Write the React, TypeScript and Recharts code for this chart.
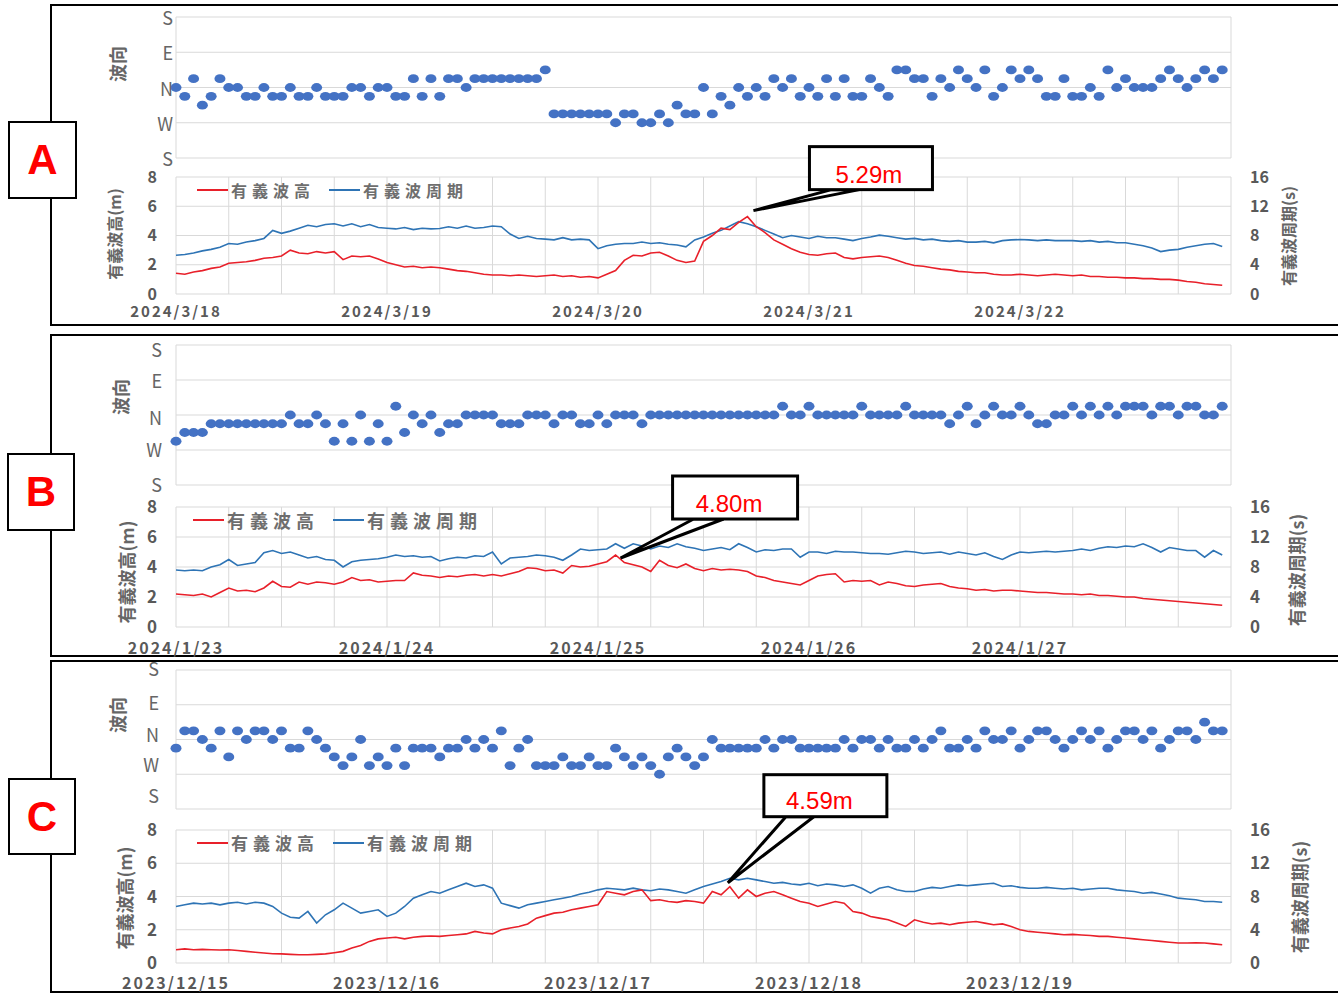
import React from "react";
import {
  ScatterChart,
  Scatter,
  LineChart,
  Line,
  XAxis,
  YAxis,
  CartesianGrid,
  Legend,
  ReferenceDot,
} from "recharts";

const FONT = "'Noto Sans CJK JP', 'Noto Sans', sans-serif";
const RED = "#e8202a";
const BLUE = "#2e74b5";
const DOT = "#4472c4";
const GRID = "#d9d9d9";
const GRAY = "#595959";

// x axis: hours from the first midnight, one tick every 6 hours
const X_TICKS = [0, 6, 12, 18, 24, 30, 36, 42, 48, 54, 60, 66, 72, 78, 84, 90, 96, 102, 108, 114, 120];
// wave direction axis, in 22.5 degree steps (E positive)
const DIR_TICKS = [-8, -4, 0, 4, 8];
const DIR_NAMES = ["S", "W", "N", "E", "S"];
const H_TICKS = [0, 2, 4, 6, 8];
const T_TICKS = [0, 4, 8, 12, 16];
const SERIES = ["有義波高", "有義波周期"];

const A_DATES = ["2024/3/18", "2024/3/19", "2024/3/20", "2024/3/21", "2024/3/22"];
const B_DATES = ["2024/1/23", "2024/1/24", "2024/1/25", "2024/1/26", "2024/1/27"];
const C_DATES = ["2023/12/15", "2023/12/16", "2023/12/17", "2023/12/18", "2023/12/19"];

// hourly wave direction (0 = N, -1 = NNW, -4 = W, +1 = NNE ...)
const A_DIR = [
  0, -1, 1, -2, -1, 1, 0, 0, -1, -1,
  0, -1, -1, 0, -1, -1, 0, -1, -1, -1,
  0, 0, -1, 0, 0, -1, -1, 1, -1, 1,
  -1, 1, 1, 0, 1, 1, 1, 1, 1, 1,
  1, 1, 2, -3, -3, -3, -3, -3, -3, -3,
  -4, -3, -3, -4, -4, -3, -4, -2, -3, -3,
  0, -3, -1, -2, 0, -1, 0, -1, 1, 0,
  1, -1, 0, -1, 1, -1, 1, -1, -1, 1,
  0, -1, 2, 2, 1, 1, -1, 1, 0, 2,
  1, 0, 2, -1, 0, 2, 1, 2, 1, -1,
  -1, 1, -1, -1, 0, -1, 2, 0, 1, 0,
  0, 0, 1, 2, 1, 0, 1, 2, 1, 2,
];
const A_HEIGHT = [
  1.42, 1.35, 1.5, 1.6, 1.75, 1.85, 2.1, 2.15, 2.2, 2.3,
  2.45, 2.5, 2.6, 3.0, 2.8, 2.75, 2.9, 2.8, 2.9, 2.35,
  2.6, 2.55, 2.6, 2.4, 2.15, 2.0, 1.85, 1.9, 1.8, 1.85,
  1.8, 1.7, 1.6, 1.55, 1.45, 1.35, 1.3, 1.3, 1.25, 1.3,
  1.25, 1.2, 1.25, 1.3, 1.2, 1.25, 1.15, 1.2, 1.1, 1.35,
  1.6, 2.3, 2.65, 2.6, 2.8, 2.85, 2.6, 2.3, 2.15, 2.25,
  3.6, 4.0, 4.5, 4.4, 4.9, 5.29, 4.6, 4.2, 3.7, 3.4,
  3.1, 2.85, 2.7, 2.65, 2.75, 2.8, 2.5, 2.4, 2.5, 2.55,
  2.6, 2.5, 2.3, 2.1, 1.95, 1.9, 1.8, 1.7, 1.65, 1.55,
  1.5, 1.45, 1.45, 1.35, 1.3, 1.3, 1.35, 1.3, 1.25, 1.3,
  1.35, 1.3, 1.25, 1.3, 1.2, 1.2, 1.15, 1.15, 1.1, 1.1,
  1.05, 1.05, 1.0, 1.0, 0.95, 0.85, 0.8, 0.7, 0.65, 0.6,
];
const A_PERIOD = [
  5.3, 5.4, 5.6, 5.9, 6.1, 6.4, 6.9, 6.8, 7.1, 7.3,
  7.6, 8.7, 8.3, 8.6, 9.0, 9.4, 9.2, 9.5, 9.6, 9.3,
  9.6, 9.2, 9.5, 9.1, 9.0, 8.9, 9.1, 8.8, 9.0, 8.9,
  8.95, 9.2, 9.0, 9.3, 9.0, 9.1, 9.3, 9.2, 8.2, 7.6,
  7.9, 7.6, 7.5, 7.4, 7.7, 7.4, 7.5, 7.4, 6.2, 6.6,
  6.8, 6.9, 6.9, 7.1, 6.9, 7.0, 6.8, 6.7, 6.45, 7.4,
  7.8, 8.3, 8.7, 9.3, 9.9, 9.6, 9.2, 8.7, 8.2, 7.7,
  8.0, 7.8, 7.6, 7.9, 7.7, 7.7, 7.5, 7.3, 7.6, 7.8,
  8.05, 7.9, 7.7, 7.5, 7.6, 7.4, 7.5, 7.3, 7.2, 7.3,
  7.1, 7.1, 7.2, 7.0, 7.3, 7.4, 7.45, 7.4, 7.3, 7.4,
  7.3, 7.3, 7.3, 7.2, 7.3, 7.1, 7.2, 7.0, 7.0, 6.8,
  6.6, 6.3, 5.8, 6.0, 6.1, 6.4, 6.6, 6.8, 6.9, 6.5,
];

const B_DIR = [
  -3, -2, -2, -2, -1, -1, -1, -1, -1, -1,
  -1, -1, -1, 0, -1, -1, 0, -1, -3, -1,
  -3, 0, -3, -1, -3, 1, -2, 0, -1, 0,
  -2, -1, -1, 0, 0, 0, 0, -1, -1, -1,
  0, 0, 0, -1, 0, 0, -1, -1, 0, -1,
  0, 0, 0, -1, 0, 0, 0, 0, 0, 0,
  0, 0, 0, 0, 0, 0, 0, 0, 0, 1,
  0, 0, 1, 0, 0, 0, 0, 0, 1, 0,
  0, 0, 0, 1, 0, 0, 0, 0, -1, 0,
  1, -1, 0, 1, 0, 0, 1, 0, -1, -1,
  0, 0, 1, 0, 1, 0, 1, 0, 1, 1,
  1, 0, 1, 1, 0, 1, 1, 0, 0, 1,
];
const B_HEIGHT = [
  2.2, 2.15, 2.1, 2.2, 2.0, 2.3, 2.6, 2.4, 2.45, 2.35,
  2.6, 3.05, 2.7, 2.65, 3.0, 2.85, 3.0, 2.95, 2.85, 3.0,
  3.3, 3.1, 3.15, 3.0, 3.05, 3.1, 3.1, 3.6, 3.45, 3.4,
  3.3, 3.4, 3.35, 3.45, 3.5, 3.4, 3.5, 3.4, 3.55, 3.7,
  3.95, 3.9, 3.75, 3.8, 3.6, 4.1, 4.0, 4.05, 4.2, 4.35,
  4.8, 4.3, 4.15, 4.0, 3.7, 4.45, 4.1, 3.95, 4.2, 3.9,
  3.75, 3.9, 3.8, 3.85, 3.8, 3.7, 3.4, 3.3, 3.1, 3.0,
  2.9, 2.8, 3.1, 3.4, 3.5, 3.55, 3.0, 3.1, 3.05, 3.1,
  2.8, 3.0, 2.9, 2.75, 2.7, 2.8, 2.85, 2.9, 2.7, 2.6,
  2.55, 2.45, 2.5, 2.4, 2.45, 2.45, 2.4, 2.35, 2.3, 2.3,
  2.25, 2.2, 2.2, 2.15, 2.2, 2.1, 2.1, 2.05, 2.0, 2.0,
  1.9, 1.85, 1.8, 1.75, 1.7, 1.65, 1.6, 1.55, 1.5, 1.45,
];
const B_PERIOD = [
  7.6, 7.5, 7.6, 7.5, 8.0, 8.3, 9.0, 8.2, 8.4, 8.6,
  9.9, 10.2, 9.8, 10.0, 9.6, 9.2, 9.4, 9.0, 8.9, 8.0,
  8.7, 8.9, 9.0, 9.1, 9.3, 9.6, 9.4, 9.5, 9.3, 9.4,
  8.8, 9.1, 9.3, 9.2, 9.5, 9.4, 10.0, 8.4, 9.2, 9.3,
  9.4, 9.6, 9.5, 9.3, 8.9, 9.6, 10.4, 10.2, 10.3, 10.4,
  11.1, 10.5, 11.1, 10.8, 10.4, 10.8, 10.6, 11.1, 10.7, 10.5,
  10.2, 10.4, 10.6, 10.3, 11.1, 10.6, 10.0, 10.3, 10.2, 10.4,
  10.4, 9.3, 10.0, 10.0, 9.8, 10.1, 10.0, 10.0, 9.9, 9.8,
  9.8, 9.7, 9.9, 10.1, 10.0, 9.8, 9.9, 10.0, 9.7, 10.0,
  9.8, 9.6, 9.9, 9.4, 9.0, 9.6, 10.0, 9.9, 10.0, 10.1,
  10.0, 10.1, 10.2, 10.4, 10.2, 10.5, 10.7, 10.6, 10.8, 10.7,
  11.1, 10.6, 10.0, 10.6, 10.4, 10.2, 10.2, 9.3, 10.2, 9.6,
];

const C_DIR = [
  -1, 1, 1, 0, -1, 1, -2, 1, 0, 1,
  1, 0, 1, -1, -1, 1, 0, -1, -2, -3,
  -2, 0, -3, -2, -3, -1, -3, -1, -1, -1,
  -2, -1, -1, 0, -1, 0, -1, 1, -3, -1,
  0, -3, -3, -3, -2, -3, -3, -2, -3, -3,
  -1, -2, -3, -2, -3, -4, -2, -1, -2, -3,
  -2, 0, -1, -1, -1, -1, -1, 0, -1, 0,
  0, -1, -1, -1, -1, -1, 0, -1, 0, 0,
  -1, 0, -1, -1, 0, -1, 0, 1, -1, -1,
  0, -1, 1, 0, 0, 1, -1, 0, 1, 1,
  0, -1, 0, 1, 0, 1, -1, 0, 1, 1,
  0, 1, -1, 0, 1, 1, 0, 2, 1, 1,
];
const C_HEIGHT = [
  0.8, 0.85, 0.8, 0.82, 0.8, 0.78, 0.8, 0.75, 0.7, 0.65,
  0.6, 0.56, 0.55, 0.52, 0.5, 0.5, 0.52, 0.55, 0.62, 0.7,
  0.9, 1.05, 1.3, 1.45, 1.5, 1.55, 1.45, 1.55, 1.6, 1.62,
  1.6, 1.65, 1.7, 1.75, 1.9, 1.8, 1.75, 2.0, 2.1, 2.2,
  2.35, 2.7, 2.85, 3.0, 3.05, 3.2, 3.3, 3.4, 3.5, 4.3,
  4.2, 4.1, 4.3, 4.4, 3.75, 3.8, 3.7, 3.65, 3.75, 3.7,
  3.6, 4.3, 4.1, 4.59, 3.9, 4.4, 4.0, 4.2, 4.3, 4.1,
  3.9, 3.7, 3.6, 3.4, 3.55, 3.7, 3.6, 3.1, 3.0, 2.8,
  2.7, 2.6, 2.4, 2.2, 2.6, 2.45, 2.35, 2.4, 2.3, 2.4,
  2.45, 2.5, 2.4, 2.3, 2.35, 2.2, 2.0, 1.9, 1.85, 1.8,
  1.75, 1.7, 1.72, 1.68, 1.65, 1.6, 1.6, 1.55, 1.5, 1.45,
  1.4, 1.35, 1.3, 1.25, 1.2, 1.2, 1.22, 1.2, 1.15, 1.1,
];
const C_PERIOD = [
  6.8, 7.0, 7.2, 7.1, 7.2, 7.0, 7.2, 7.3, 7.1, 7.3,
  7.2, 6.8, 6.0, 5.5, 5.4, 6.2, 4.8, 5.8, 6.4, 7.2,
  6.6, 6.0, 6.2, 6.4, 5.6, 6.0, 6.8, 7.8, 8.2, 8.6,
  8.4, 8.8, 9.2, 9.6, 9.2, 9.4, 9.0, 7.2, 6.9, 6.6,
  7.0, 7.2, 7.4, 7.6, 7.8, 8.0, 8.3, 8.5, 8.8, 9.0,
  8.9, 8.8, 9.0, 8.8, 8.7, 8.9, 8.8, 8.6, 8.4, 8.8,
  9.2, 9.5, 9.8, 10.2, 10.0, 10.2, 10.0, 9.8, 9.6, 9.7,
  9.5, 9.4, 9.6, 9.3, 9.5, 9.4, 9.2, 9.4, 9.0, 8.4,
  9.0, 9.2, 8.8, 8.6, 8.6, 8.9, 9.1, 9.0, 9.2, 9.4,
  9.3, 9.4, 9.5, 9.6, 9.2, 9.3, 9.1, 9.0, 9.0, 9.1,
  9.0, 8.9, 9.0, 8.8, 8.9, 9.0, 9.0, 8.8, 8.7, 8.6,
  8.4, 8.5, 8.3, 8.1, 7.8, 7.7, 7.6, 7.4, 7.4, 7.3,
];

// dirShift: vertical nudge of the S/W/N/E/S tick labels (bottom to top), as in the source image
const LAYOUT_A = {
  letter: "A", frameTop: 4, frameH: 322, box: { left: 8, top: 121, w: 69, h: 78 },
  dirTop: 17, dirBottom: 158, lineTop: 177, lineBottom: 294,
  dirGap: 3, dirFont: 18, dirShift: [0, 0, 0, 0, 0], numFont: 16, dateFont: 15, dateDy: 16,
  legendTop: 61, legendLeft: 97, legendFont: 16,
  dirTitle: [117, 64, 18], hTitle: [114, 234, 16], tTitle: [1288, 236, 16],
  callout: { boxDx: 62, boxDy: -70, w: 123, h: 43, b1: 22, b2: 50, tipDx: 6, tipDy: -6, tdx: -2, tdy: 6 },
};
const LAYOUT_B = {
  letter: "B", frameTop: 334, frameH: 323, box: { left: 7, top: 453, w: 68, h: 78 },
  dirTop: 345, dirBottom: 485, lineTop: 507, lineBottom: 627,
  dirGap: 14, dirFont: 18, dirShift: [-1, -1, 2, 0, 4], numFont: 17, dateFont: 16, dateDy: 20,
  legendTop: 60, legendLeft: 93, legendFont: 18,
  dirTitle: [120, 397, 18], hTitle: [126, 572, 18], tTitle: [1296, 570, 18],
  callout: { boxDx: 57, boxDy: -79, w: 125, h: 43, b1: 21, b2: 51, tipDx: 5, tipDy: 3, tdx: -6, tdy: 6 },
};
const LAYOUT_C = {
  letter: "C", frameTop: 660, frameH: 333, box: { left: 8, top: 778, w: 68, h: 77 },
  dirTop: 670, dirBottom: 809, lineTop: 830, lineBottom: 963,
  dirGap: 17, dirFont: 18, dirShift: [-14, -10, -6, -3, -2], numFont: 17, dateFont: 16, dateDy: 19,
  legendTop: 60, legendLeft: 97, legendFont: 17,
  dirTitle: [117, 715, 18], hTitle: [124, 898, 18], tTitle: [1299, 897, 18],
  callout: { boxDx: 34, boxDy: -112, w: 123, h: 42, b1: 22, b2: 50, tipDx: -2, tipDy: -4, tdx: -6, tdy: 5 },
};

const Title = ({ pos, text }: any) => (
  <div
    style={{
      position: "absolute",
      left: pos[0],
      top: pos[1],
      transform: "translate(-50%, -50%) rotate(-90deg)",
      whiteSpace: "nowrap",
      fontFamily: FONT,
      fontSize: pos[2],
      fontWeight: 700,
      color: "#666",
    }}
  >
    {text}
  </div>
);

const LegendContent = ({ payload, size }: any) => {
  const items = [...(payload || [])].sort((a: any, b: any) => SERIES.indexOf(a.value) - SERIES.indexOf(b.value));
  return (
    <div
      style={{
        display: "flex",
        alignItems: "center",
        fontFamily: FONT,
        fontSize: size,
        fontWeight: 700,
        color: "#6e6e6e",
        letterSpacing: 5,
        whiteSpace: "nowrap",
      }}
    >
      {items.map((p: any, i: number) => (
        <React.Fragment key={p.value}>
          <span style={{ display: "inline-block", width: 31, height: 2, background: p.color, marginLeft: i ? 14 : 0, marginRight: 3 }} />
          <span>{p.value}</span>
        </React.Fragment>
      ))}
    </div>
  );
};

const Callout = ({ cx, cy, text, c }: any) => {
  const bx = cx + c.boxDx;
  const by = cy + c.boxDy;
  return (
    <g>
      <polygon
        points={`${bx + c.b1},${by + c.h} ${cx + c.tipDx},${cy + c.tipDy} ${bx + c.b2},${by + c.h}`}
        fill="#fff"
        stroke="#000"
        strokeWidth={3}
      />
      <rect x={bx} y={by} width={c.w} height={c.h} fill="#fff" stroke="#000" strokeWidth={3} />
      <text
        x={bx + c.w / 2 + c.tdx}
        y={by + c.h / 2 + c.tdy}
        textAnchor="middle"
        dominantBaseline="central"
        fill="#ff0000"
        fontSize={24}
        fontFamily="'Liberation Sans', Arial, sans-serif"
      >
        {text}
      </text>
    </g>
  );
};

const Panel = ({ L, dates, dir, height, period }: any) => {
  const lineData = height.map((v: number, h: number) => ({ h, height: v, period: period[h] }));
  const dirData = dir.map((d: number, h: number) => ({ h, d })).filter((p: any) => p.d !== null);
  let peak = 0;
  height.forEach((v: number, i: number) => {
    if (v > height[peak]) peak = i;
  });
  const dirH = L.dirBottom - L.dirTop + 32;
  const lineH = L.lineBottom - L.lineTop + 96;
  const numTick = { fill: GRAY, fontSize: L.numFont, fontWeight: 700, fontFamily: FONT };

  const DateTick = ({ x, y, payload }: any) => {
    const v = payload.value;
    if (v % 24 !== 0 || v >= 120) return null;
    return (
      <text
        x={x}
        y={y + L.dateDy}
        textAnchor="middle"
        dominantBaseline="central"
        fill={GRAY}
        fontSize={L.dateFont}
        fontWeight={700}
        fontFamily={FONT}
        letterSpacing={2}
      >
        {dates[v / 24]}
      </text>
    );
  };

  const DirTick = ({ x, y, payload }: any) => {
    const i = DIR_TICKS.indexOf(payload.value);
    return (
      <text
        x={x}
        y={y + L.dirShift[i]}
        textAnchor="end"
        dominantBaseline="central"
        fill="#666"
        fontSize={L.dirFont}
        fontFamily={FONT}
      >
        {DIR_NAMES[i]}
      </text>
    );
  };

  return (
    <>
      <div
        style={{
          position: "absolute",
          left: 50,
          top: L.frameTop,
          width: 1320,
          height: L.frameH,
          border: "2px solid #000",
          boxSizing: "border-box",
        }}
      />
      <div
        style={{
          position: "absolute",
          left: L.box.left,
          top: L.box.top,
          width: L.box.w,
          height: L.box.h,
          border: "2px solid #000",
          boxSizing: "border-box",
          background: "#fff",
          color: "#ff0000",
          fontFamily: "'Liberation Sans', Arial, sans-serif",
          fontWeight: 700,
          fontSize: 42,
          display: "flex",
          alignItems: "center",
          justifyContent: "center",
        }}
      >
        {L.letter}
      </div>

      <div style={{ position: "absolute", left: 100, top: L.dirTop - 16 }}>
        <ScatterChart width={1151} height={dirH} margin={{ top: 16, right: 20, bottom: 16, left: 0 }}>
          <CartesianGrid stroke={GRID} />
          <XAxis dataKey="h" type="number" domain={[0, 120]} ticks={X_TICKS} interval={0} height={0} tick={false} axisLine={false} tickLine={false} />
          <YAxis
            dataKey="d"
            type="number"
            domain={[-8, 8]}
            ticks={DIR_TICKS}
            interval={0}
            width={76}
            axisLine={false}
            tickLine={false}
            tickSize={0}
            tickMargin={L.dirGap}
            tick={<DirTick />}
          />
          <Scatter
            data={dirData}
            fill={DOT}
            isAnimationActive={false}
            shape={(p: any) => <ellipse cx={p.cx} cy={p.cy} rx={5.5} ry={4.4} fill={DOT} />}
          />
        </ScatterChart>
      </div>

      <div style={{ position: "absolute", left: 100, top: L.lineTop - 60 }}>
        <LineChart width={1201} height={lineH} data={lineData} margin={{ top: 60, right: 10, bottom: 0, left: 0 }}>
          <CartesianGrid stroke={GRID} yAxisId="h" />
          <XAxis
            dataKey="h"
            type="number"
            domain={[0, 120]}
            ticks={X_TICKS}
            height={36}
            axisLine={false}
            tickLine={false}
            tickSize={0}
            tickMargin={0}
            interval={0}
            tick={<DateTick />}
          />
          <YAxis yAxisId="h" domain={[0, 8]} ticks={H_TICKS} interval={0} width={76} axisLine={false} tickLine={false} tickSize={0} tickMargin={19} tick={numTick} />
          <YAxis yAxisId="t" orientation="right" domain={[0, 16]} ticks={T_TICKS} interval={0} width={60} axisLine={false} tickLine={false} tickSize={0} tickMargin={19} tick={numTick} />
          <Legend
            layout="horizontal"
            verticalAlign="middle"
            align="center"
            wrapperStyle={{ top: L.legendTop, left: L.legendLeft, width: "auto" }}
            content={<LegendContent size={L.legendFont} />}
          />
          <Line yAxisId="t" dataKey="period" name="有義波周期" stroke={BLUE} strokeWidth={1.6} dot={false} isAnimationActive={false} />
          <Line yAxisId="h" dataKey="height" name="有義波高" stroke={RED} strokeWidth={1.6} dot={false} isAnimationActive={false} />
          <ReferenceDot
            yAxisId="h"
            x={peak}
            y={height[peak]}
            r={0}
            shape={(p: any) => <Callout cx={p.cx} cy={p.cy} text={`${height[peak].toFixed(2)}m`} c={L.callout} />}
          />
        </LineChart>
      </div>

      <Title pos={L.dirTitle} text="波向" />
      <Title pos={L.hTitle} text="有義波高(m)" />
      <Title pos={L.tTitle} text="有義波周期(s)" />
    </>
  );
};

export default function App() {
  return (
    <div
      style={{
        position: "absolute",
        left: 0,
        top: 0,
        width: 1338,
        height: 993,
        overflow: "hidden",
        background: "#fff",
      }}
    >
      <Panel L={LAYOUT_A} dates={A_DATES} dir={A_DIR} height={A_HEIGHT} period={A_PERIOD} />
      <Panel L={LAYOUT_B} dates={B_DATES} dir={B_DIR} height={B_HEIGHT} period={B_PERIOD} />
      <Panel L={LAYOUT_C} dates={C_DATES} dir={C_DIR} height={C_HEIGHT} period={C_PERIOD} />
    </div>
  );
}
